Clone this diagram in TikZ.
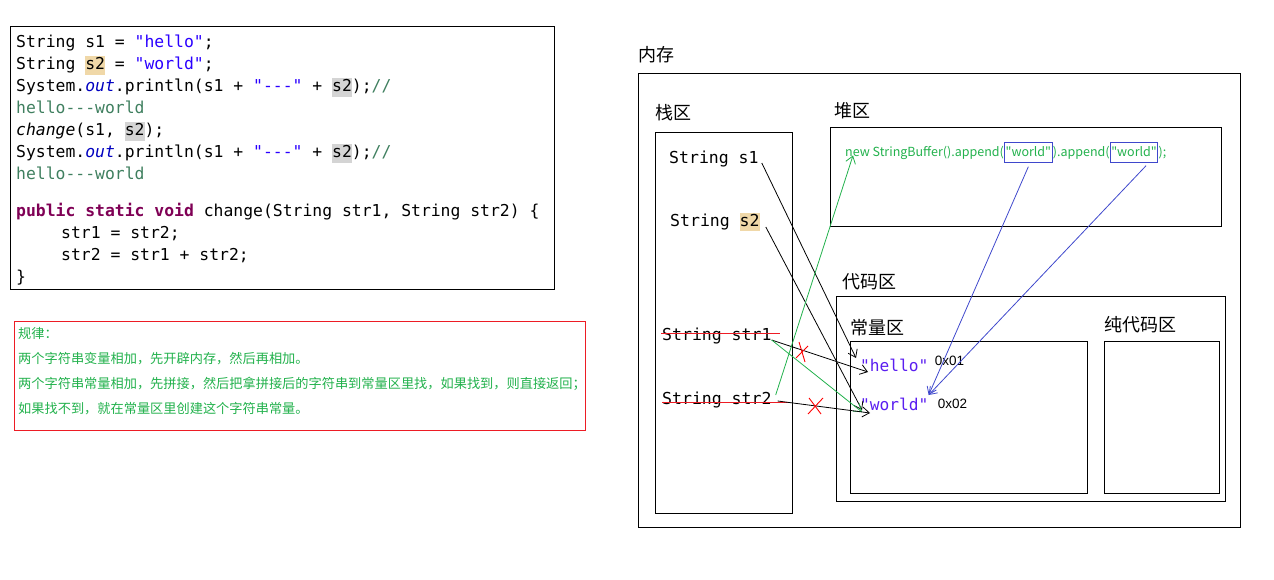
\documentclass[tikz,border=0pt]{standalone}
\usepackage{fontspec}
\setmainfont{Liberation Sans}
\setmonofont{DejaVu Sans Mono}
\newfontfamily\cjk{Noto Sans CJK SC}
\usetikzlibrary{arrows.meta,positioning}
\definecolor{strC}     {HTML}{2A00FF}
\definecolor{cmtC}     {HTML}{3F7F5F}
\definecolor{kwC}      {HTML}{7F0055}
\definecolor{outC}     {HTML}{0000C0}
\definecolor{hlTanC}   {HTML}{F0D8A8}
\definecolor{hlGrayC}  {HTML}{D4D4D4}
\definecolor{ruleC}    {HTML}{22B14C}
\definecolor{ruleEdge} {HTML}{ED1C24}
\definecolor{constC}   {HTML}{5A1EF0}
\definecolor{linkBlue} {HTML}{3F48CC}
\definecolor{linkGreen}{HTML}{22B14C}
\newcommand\strTxt[1]{\textcolor{strC}{#1}}
\newcommand\cmtTxt[1]{\textcolor{cmtC}{#1}}
\newcommand\kwTxt[1]{\textcolor{kwC}{\bfseries #1}}
\newcommand\outTxt[1]{\textcolor{outC}{\itshape #1}}
\newcommand\hlTan[1]{{\setlength{\fboxsep}{0pt}\colorbox{hlTanC}{\vrule height 13.5pt depth 5pt width 0pt#1}}}
\newcommand\hlGray[1]{{\setlength{\fboxsep}{0pt}\colorbox{hlGrayC}{\vrule height 13.5pt depth 5pt width 0pt#1}}}
\tikzset{
  >={Straight Barb[length=7pt,width=10pt]},
  areaBox/.style={draw,line width=1pt,anchor=north west,inner sep=0pt},
  areaLabel/.style={font=\cjk\fontsize{18}{20}\selectfont,anchor=west,inner sep=0pt},
  varTxt/.style={font=\ttfamily\fontsize{16.5}{18}\selectfont,anchor=west,inner sep=0pt},
  constTxt/.style={font=\ttfamily\fontsize{16.2}{18}\selectfont,text=constC,anchor=west,inner sep=0pt},
  addrTxt/.style={font=\fontsize{13.5}{15}\selectfont,anchor=west,inner sep=0pt},
  heapTxt/.style={font=\cjk\fontsize{12.5}{14}\selectfont,text=linkGreen,inner sep=0pt},
  worldBox/.style={heapTxt,draw=linkBlue,line width=1pt,inner xsep=1pt,inner ysep=5pt},
  refLink/.style={->,line width=0.8pt},
  greenLink/.style={->,line width=0.8pt,linkGreen},
  blueLink/.style={->,line width=0.8pt,linkBlue},
  redStrike/.style={line width=1pt,ruleEdge},
  redMark/.style={line width=0.9pt,red},
}

\begin{document}
\begin{tikzpicture}[x=1pt,y=-1pt]
\useasboundingbox (0,0) rectangle (1274,580);

% Java source on the left.
\node[areaBox,minimum width=544pt,minimum height=263pt] (codeBox) at (10,26) {};
\node[anchor=north west,inner sep=0pt,align=left,
      font=\ttfamily\fontsize{16.4}{22}\selectfont] (code) at (16,35)
{String s1 = \strTxt{"hello"};\\
 String \hlTan{s2} = \strTxt{"world"};\\
 System.\outTxt{out}.println(s1 + \strTxt{"---"} + \hlGray{s2});\cmtTxt{//}\\
 \cmtTxt{hello---world}\\
 \textit{change}(s1, \hlGray{s2});\\
 System.\outTxt{out}.println(s1 + \strTxt{"---"} + \hlGray{s2});\cmtTxt{//}\\
 \cmtTxt{hello---world}\\[15pt]
 \kwTxt{public static void} change(String str1, String str2) \{\\
 \hspace*{45pt}str1 = str2;\\
 \hspace*{45pt}str2 = str1 + str2;\\
 \}};

% Rules box.
\node[areaBox,draw=ruleEdge,minimum width=571pt,minimum height=109pt] (ruleBox) at (14,321) {};
\node[anchor=north west,inner sep=0pt,align=left,text=ruleC,
      font=\cjk\fontsize{13.2}{25}\selectfont] (rules) at (18,327)
{规律：\\
 两个字符串变量相加，先开辟内存，然后再相加。\\
 两个字符串常量相加，先拼接，然后把拿拼接后的字符串到常量区里找，如果找到，则直接返回；\\
 如果找不到，就在常量区里创建这个字符串常量。};

% Memory areas.
\node[areaBox,minimum width=602pt,minimum height=454pt] (mem)   at (638,73)  {};
\node[areaBox,minimum width=137pt,minimum height=381pt] (stack) at (655,132) {};
\node[areaBox,minimum width=391pt,minimum height=99pt]  (heap)  at (830,127) {};
\node[areaBox,minimum width=389pt,minimum height=205pt] (codeArea) at (836,296) {};
\node[areaBox,minimum width=237pt,minimum height=152pt] (constPool) at (850,341) {};
\node[areaBox,minimum width=115pt,minimum height=152pt] (pureCode)  at (1104,341) {};

\node[areaLabel] (memLbl)   at (638,55)  {内存};
\node[areaLabel] (stackLbl) at (655,113) {栈区};
\node[areaLabel] (heapLbl)  at (834,111) {堆区};
\node[areaLabel] (codeLbl)  at (842,282) {代码区};
\node[areaLabel] (constLbl) at (850,328) {常量区};
\node[areaLabel] (pureLbl)  at (1104,325) {纯代码区};

% Stack variables.
\node[varTxt] (s1)   at (669,159) {String s1};
\node[varTxt] (s2)   at (670,222) {String \hlTan{s2}};
\node[varTxt] (str1) at (662,336) {String str1};
\node[varTxt] (str2) at (662,400) {String str2};
\draw[redStrike] ([xshift=-1pt,yshift=3pt]str1.west) -- ([xshift=8pt,yshift=3pt]str1.east);
\draw[redStrike] ([yshift=-2pt]str2.west) -- ([xshift=18pt,yshift=-2pt]str2.east);

% Constant pool entries.
\node[constTxt] (hello) at (860,365) {"hello"};
\node[constTxt] (world) at (860,404) {"world"};
\node[addrTxt,right=6pt of hello.east,yshift=4pt,anchor=west] (addr1) {0x01};
\node[addrTxt,right=9pt of world.east,anchor=west] (addr2) {0x02};

% Heap object.
\node[heapTxt,anchor=base west] (hp1) at (845,157) {new StringBuffer().append(};
\node[worldBox,anchor=base west] (hw1) at (hp1.base east) {"world"};
\node[heapTxt,anchor=base west] (hp2) at (hw1.base east) {).append(};
\node[worldBox,anchor=base west] (hw2) at (hp2.base east) {"world"};
\node[heapTxt,anchor=base west] (hp3) at (hw2.base east) {);};

% References.
\draw[refLink] ([xshift=3pt,yshift=-4pt]s1.east) -- ([xshift=-4pt,yshift=7pt]hello.west);
\draw[refLink] ([xshift=6pt,yshift=-5pt]s2.east) -- ([xshift=2pt,yshift=-6pt]world.west);
\draw[refLink] ([yshift=-4pt]str1.east) -- ([xshift=8pt,yshift=-7pt]hello.west);
\draw[greenLink] ([yshift=-4pt]str1.east) -- ([xshift=2pt,yshift=-8pt]world.west);
\draw[refLink] ([xshift=6pt,yshift=-1pt]str2.east) -- ([xshift=10pt,yshift=-9pt]world.west);
\draw[greenLink] ([xshift=4pt,yshift=5pt]str2.east) -- ([xshift=8pt,yshift=-2pt]hp1.west);
\draw[blueLink] ([yshift=-4pt]hw1.south) -- ([yshift=9pt]world.east);
\draw[blueLink] ([xshift=12pt,yshift=-3pt]hw2.south) -- ([yshift=9pt]world.east);

% Crossed-out links.
\coordinate (cross1) at (802,352);
\coordinate (cross2) at (815,406);
\draw[redMark] ([shift={(-3,-10)}]cross1) -- ([shift={(3,10)}]cross1);
\draw[redMark] ([shift={(-6,6)}]cross1) -- ([shift={(6,-6)}]cross1);
\draw[redMark] ([shift={(-6,-8)}]cross2) -- ([shift={(6,8)}]cross2);
\draw[redMark] ([shift={(-7,8)}]cross2) -- ([shift={(8,-8)}]cross2);

\end{tikzpicture}
\end{document}
